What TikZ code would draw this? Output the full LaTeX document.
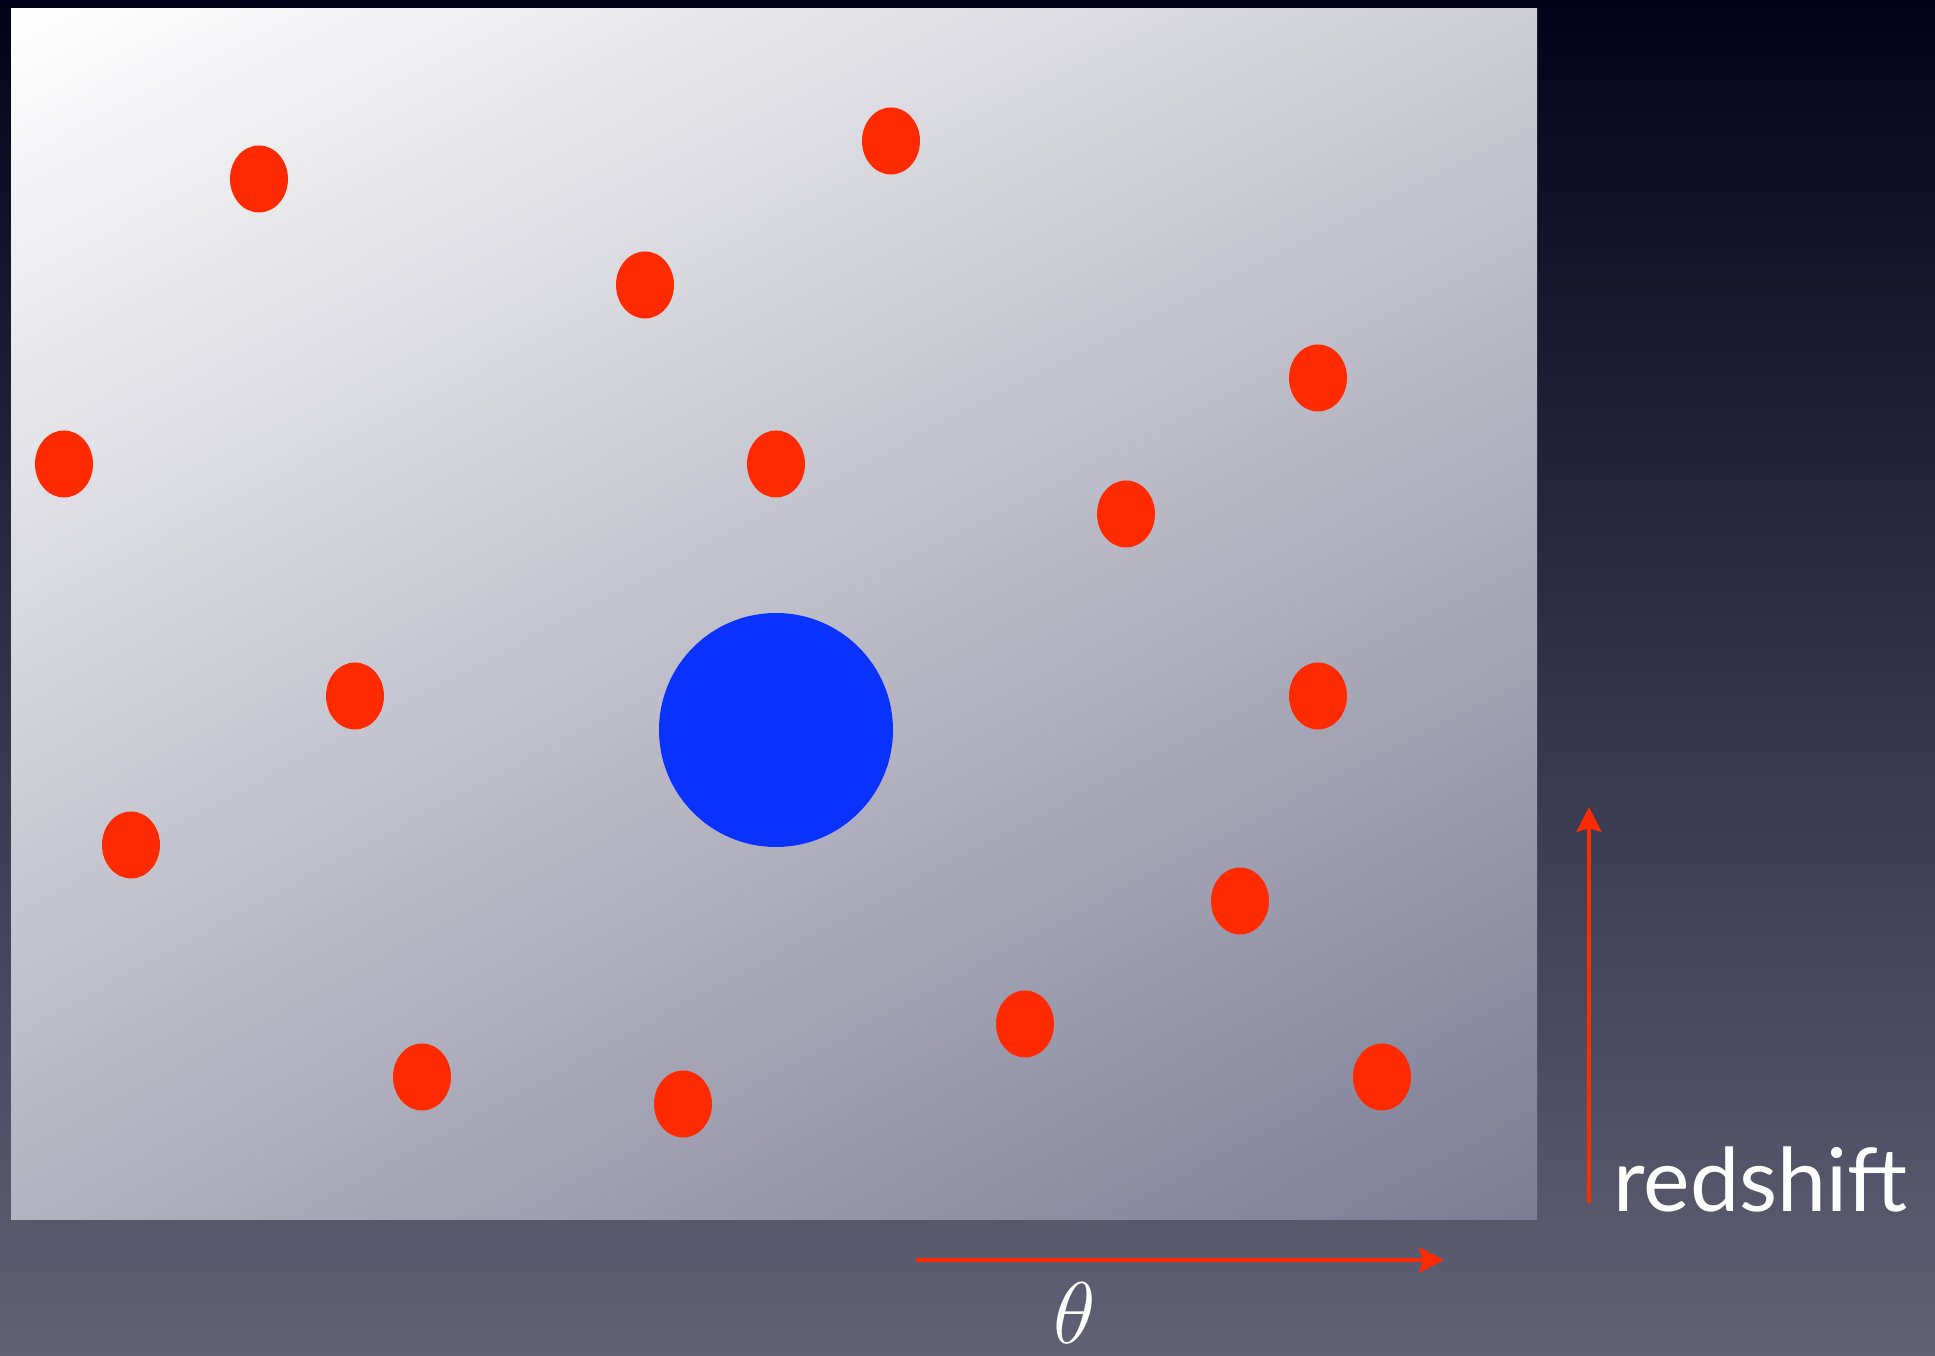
\documentclass[tikz,border=0pt]{standalone}
\usepackage{fontspec}
\usepackage{amsmath}
\usepackage{tikz}
\usetikzlibrary{arrows.meta,shapes.geometric,shadings}
\newfontfamily\labelfont{Lato}
\definecolor{skytop}{HTML}{02021A}
\definecolor{skymid}{HTML}{2F2F46}
\definecolor{skybot}{HTML}{616176}
\definecolor{panelul}{HTML}{FFFFFF}
\definecolor{panelur}{HTML}{CDCDD5}
\definecolor{panelll}{HTML}{B2B2C0}
\definecolor{panellr}{HTML}{7C7C95}
\definecolor{galred}{HTML}{FF2A00}
\definecolor{clusblue}{HTML}{0A32FF}

\begin{document}
\begin{tikzpicture}[
  x=0.1mm, y=0.1mm,
  gal/.style={ellipse, fill=galred, minimum width=5.8mm, minimum height=6.7mm, inner sep=0pt},
  clus/.style={circle, fill=clusblue, minimum size=23.4mm, inner sep=0pt},
  arr/.style={-{Stealth[length=2.5mm, width=2.5mm, inset=0.4mm]}, line width=0.4mm, color=galred},
  lbl/.style={text=white, inner sep=0pt},
]
  \shade[top color=skytop, middle color=skymid, bottom color=skybot] (0,0) rectangle (1935,1356);
  \useasboundingbox (0,0) rectangle (1935,1356);
  \shade[upper left=panelul, upper right=panelur, lower left=panelll, lower right=panellr]
    (11,136) rectangle (1537,1347);

  \foreach \name/\pos in {g1/{259,1177}, g2/{891,1215}, g3/{645,1071}, g4/{1318,978},
                         g5/{64,892}, g6/{776,892}, g7/{1126,842}, g8/{355,660},
                         g9/{1318,660}, g10/{131,511}, g11/{1240,455}, g12/{1025,332},
                         g13/{422,279}, g14/{683,252}, g15/{1382,279}}
    \node[gal] (\name) at (\pos) {};
  \node[clus] (cluster) at (776,626) {};

  \coordinate (zlo) at (1589,153);
  \coordinate (zhi) at (1589,549);
  \coordinate (tlo) at (916,96);
  \coordinate (thi) at (1444,96);
  \draw[arr] (zlo) -- (zhi);
  \draw[arr] (tlo) -- (thi);

  \node[lbl, anchor=base west, font=\labelfont\fontsize{25}{25}\selectfont] (zlabel) at (1613,144) {redshift};
  \node[lbl, anchor=base, font=\fontsize{26}{26}\selectfont] (tlabel) at (1075,12) {$\theta$};
\end{tikzpicture}
\end{document}
